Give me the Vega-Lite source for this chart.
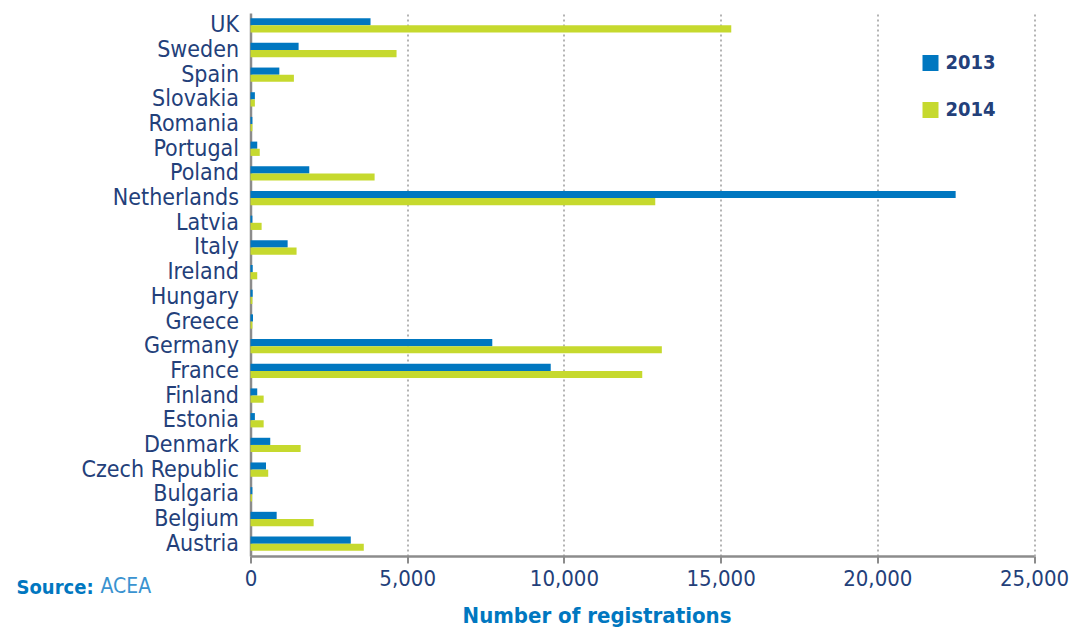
{
  "$schema": "https://vega.github.io/schema/vega-lite/v6.json",
  "autosize": "none",
  "width": 783.5,
  "height": 543,
  "padding": {"left": 250.5, "top": 13, "right": 37, "bottom": 72},
  "background": "white",
  "config": {
    "font": "DejaVu Sans Condensed, DejaVu Sans",
    "view": {"stroke": null}
  },
  "title": {
    "text": "ACEA",
    "orient": "bottom",
    "anchor": "start",
    "frame": "group",
    "baseline": "alphabetic",
    "offset": 0,
    "dx": -150,
    "dy": -33,
    "font": "DejaVu Sans Condensed, DejaVu Sans",
    "fontSize": 21,
    "fontWeight": "normal",
    "color": "#3a93d0"
  },
  "data": {
    "values": [
      {"country": "UK", "year": "2013", "registrations": 3830},
      {"country": "UK", "year": "2014", "registrations": 15340},
      {"country": "Sweden", "year": "2013", "registrations": 1535},
      {"country": "Sweden", "year": "2014", "registrations": 4660},
      {"country": "Spain", "year": "2013", "registrations": 920},
      {"country": "Spain", "year": "2014", "registrations": 1385},
      {"country": "Slovakia", "year": "2013", "registrations": 140},
      {"country": "Slovakia", "year": "2014", "registrations": 140},
      {"country": "Romania", "year": "2013", "registrations": 60},
      {"country": "Romania", "year": "2014", "registrations": 60},
      {"country": "Portugal", "year": "2013", "registrations": 215},
      {"country": "Portugal", "year": "2014", "registrations": 295},
      {"country": "Poland", "year": "2013", "registrations": 1875},
      {"country": "Poland", "year": "2014", "registrations": 3960},
      {"country": "Netherlands", "year": "2013", "registrations": 22500},
      {"country": "Netherlands", "year": "2014", "registrations": 12915},
      {"country": "Latvia", "year": "2013", "registrations": 60},
      {"country": "Latvia", "year": "2014", "registrations": 355},
      {"country": "Italy", "year": "2013", "registrations": 1185},
      {"country": "Italy", "year": "2014", "registrations": 1470},
      {"country": "Ireland", "year": "2013", "registrations": 70},
      {"country": "Ireland", "year": "2014", "registrations": 215},
      {"country": "Hungary", "year": "2013", "registrations": 70},
      {"country": "Hungary", "year": "2014", "registrations": 60},
      {"country": "Greece", "year": "2013", "registrations": 80},
      {"country": "Greece", "year": "2014", "registrations": 60},
      {"country": "Germany", "year": "2013", "registrations": 7715},
      {"country": "Germany", "year": "2014", "registrations": 13125},
      {"country": "France", "year": "2013", "registrations": 9580},
      {"country": "France", "year": "2014", "registrations": 12500},
      {"country": "Finland", "year": "2013", "registrations": 215},
      {"country": "Finland", "year": "2014", "registrations": 420},
      {"country": "Estonia", "year": "2013", "registrations": 140},
      {"country": "Estonia", "year": "2014", "registrations": 420},
      {"country": "Denmark", "year": "2013", "registrations": 630},
      {"country": "Denmark", "year": "2014", "registrations": 1600},
      {"country": "Czech Republic", "year": "2013", "registrations": 495},
      {"country": "Czech Republic", "year": "2014", "registrations": 565},
      {"country": "Bulgaria", "year": "2013", "registrations": 60},
      {"country": "Bulgaria", "year": "2014", "registrations": 50},
      {"country": "Belgium", "year": "2013", "registrations": 835},
      {"country": "Belgium", "year": "2014", "registrations": 2015},
      {"country": "Austria", "year": "2013", "registrations": 3200},
      {"country": "Austria", "year": "2014", "registrations": 3615}
    ]
  },
  "mark": {"type": "bar"},
  "encoding": {
    "y": {
      "field": "country",
      "type": "nominal",
      "sort": "descending",
      "scale": {"paddingInner": 0.42, "paddingOuter": 0.21},
      "axis": {
        "title": "Source:",
        "titleAngle": 0,
        "titleAlign": "left",
        "titleBaseline": "alphabetic",
        "titleX": -234.5,
        "titleY": 580,
        "titleFontSize": 20,
        "titleFontWeight": "bold",
        "titleColor": "#0077c0",
        "domain": true,
        "domainColor": "#8c8c8c",
        "domainWidth": 2.5,
        "ticks": false,
        "labelPadding": 12,
        "labelFontSize": 23,
        "labelColor": "#23407a"
      }
    },
    "yOffset": {"field": "year", "type": "nominal"},
    "x": {
      "field": "registrations",
      "type": "quantitative",
      "scale": {"domain": [0, 25000], "nice": false},
      "axis": {
        "title": "Number of registrations",
        "titleFontSize": 22,
        "titleFontWeight": "bold",
        "titleColor": "#0077c0",
        "titleAlign": "center",
        "titleBaseline": "alphabetic",
        "titleX": 346,
        "titleY": 66,
        "values": [0, 5000, 10000, 15000, 20000, 25000],
        "format": ",d",
        "labelFontSize": 22,
        "labelColor": "#23407a",
        "labelPadding": 5,
        "labelOverlap": false,
        "labelFlush": false,
        "domain": true,
        "domainColor": "#8c8c8c",
        "domainWidth": 2.5,
        "ticks": true,
        "tickColor": "#8c8c8c",
        "tickWidth": 2,
        "tickSize": 7,
        "grid": true,
        "gridColor": "#9a9a9a",
        "gridWidth": 1.5,
        "gridDash": [2, 3]
      }
    },
    "color": {
      "field": "year",
      "type": "nominal",
      "scale": {"domain": ["2013", "2014"], "range": ["#0077c0", "#c6d92e"]},
      "legend": {
        "title": null,
        "orient": "none",
        "legendX": 670,
        "legendY": 40,
        "symbolType": "square",
        "symbolSize": 256,
        "symbolStrokeWidth": 0,
        "labelFontSize": 20,
        "labelFontWeight": "bold",
        "labelColor": "#23407a",
        "labelOffset": 5,
        "rowPadding": 27
      }
    }
  }
}
